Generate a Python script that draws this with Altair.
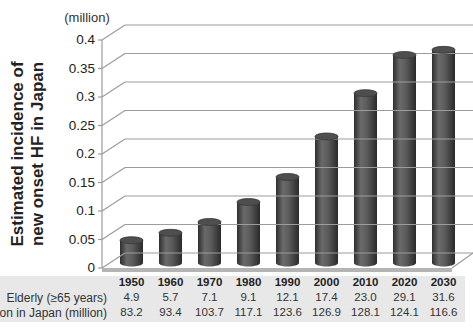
import altair as alt
import pandas as pd

# ---------------- data ----------------
years = ["1950", "1960", "1970", "1980", "1990", "2000", "2010", "2020", "2030"]
incidence = [0.040, 0.053, 0.072, 0.107, 0.151, 0.222, 0.298, 0.365, 0.374]
elderly = ["4.9", "5.7", "7.1", "9.1", "12.1", "17.4", "23.0", "29.1", "31.6"]
population = ["83.2", "93.4", "103.7", "117.1", "123.6", "126.9", "128.1", "124.1", "116.6"]
y_ticks = [0, 0.05, 0.1, 0.15, 0.2, 0.25, 0.3, 0.35, 0.4]
row_labels = ["Elderly (\u226565 years)", "Population in Japan (million)"]
title_lines = ["Estimated incidence of", "new onset HF in Japan"]
unit_label = "(million)"

FONT = "Liberation Sans"
bars_df = pd.DataFrame({"year": years, "value": incidence})
grid_df = pd.DataFrame({"v": y_ticks})
one = pd.DataFrame({"k": [0]})

xscale = alt.Scale(domain=years, paddingInner=0.41, paddingOuter=0.205)
yscale = alt.Scale(domain=[0, 0.4], nice=False)
GRID = "#9c9c9c"

ELLIPSE = "M -1 0 A 1 0.3 0 1 1 1 0 A 1 0.3 0 1 1 -1 0 Z"
bar_grad = alt.LinearGradient(
    gradient="linear", x1=0, x2=1, y1=0, y2=0,
    stops=[
        alt.GradientStop(offset=0, color="#2e2e2e"),
        alt.GradientStop(offset=0.3, color="#6a6a6a"),
        alt.GradientStop(offset=0.55, color="#5c5c5c"),
        alt.GradientStop(offset=1, color="#2a2a2a"),
    ],
)

# y axis drawn from the tick list
axis_line = alt.Chart(one).mark_rule(color=GRID, strokeWidth=1.2).encode(
    x=alt.value(-10), y=alt.YDatum(0, scale=yscale, axis=None), y2=alt.Y2Datum(0.4)
)
axis_ticks = alt.Chart(grid_df).mark_rule(color=GRID, strokeWidth=1.2).encode(
    x=alt.value(-14), x2=alt.value(-10), y=alt.Y("v:Q", scale=yscale, axis=None)
)
axis_labels = alt.Chart(grid_df).mark_text(
    align="right", baseline="middle", font=FONT, fontSize=13.5, color="#222222"
).encode(
    x=alt.value(-17), y=alt.Y("v:Q", scale=yscale, axis=None),
    text=alt.Text("v:Q", format="~g"),
)

# gridlines (3D style)
grid_front = alt.Chart(grid_df).mark_rule(color=GRID, strokeWidth=1.2, y2Offset=-15).encode(
    x=alt.value(-10), x2=alt.value(13),
    y=alt.Y("v:Q", scale=yscale, axis=None),
    y2="v:Q",
)
grid_back = alt.Chart(grid_df).mark_rule(color=GRID, strokeWidth=1.2, yOffset=-15).encode(
    x=alt.value(13), x2=alt.value(361),
    y=alt.Y("v:Q", scale=yscale, axis=None),
)
floor_front = alt.Chart(one).mark_rule(color="#b4b4b4", strokeWidth=4, yOffset=2).encode(
    x=alt.value(-10), x2=alt.value(340), y=alt.YDatum(0, axis=None)
)
floor_right = alt.Chart(one).mark_rule(color=GRID, strokeWidth=1.2, y2Offset=-15).encode(
    x=alt.value(340), x2=alt.value(361), y=alt.YDatum(0, axis=None), y2=alt.Y2Datum(0)
)

# cylinders
bottom = alt.Chart(bars_df).mark_point(
    shape=ELLIPSE, size=529, filled=True, opacity=1, color=bar_grad, strokeWidth=0, yOffset=-5
).encode(
    x=alt.X("year:N", scale=xscale, axis=None),
    y=alt.YDatum(0, axis=None),
)
body = alt.Chart(bars_df).mark_bar(color=bar_grad, yOffset=-5, y2Offset=-5).encode(
    x=alt.X("year:N", scale=xscale, axis=None),
    y=alt.Y("value:Q", scale=yscale, axis=None),
    y2=alt.Y2Datum(0),
)
top = alt.Chart(bars_df).mark_point(
    shape=ELLIPSE, size=529, filled=True, opacity=1, color="#4e4e4e",
    stroke="#3a3a3a", strokeWidth=0.8, yOffset=-5
).encode(
    x=alt.X("year:N", scale=xscale, axis=None),
    y=alt.Y("value:Q", scale=yscale, axis=None),
)

# y title and unit
title1 = alt.Chart(one).mark_text(
    text=title_lines[0], angle=270, font=FONT, fontSize=17, fontWeight="bold", color="#222222"
).encode(x=alt.value(-94), y=alt.value(114))
title2 = alt.Chart(one).mark_text(
    text=title_lines[1], angle=270, font=FONT, fontSize=17, fontWeight="bold", color="#222222"
).encode(x=alt.value(-74), y=alt.value(114))
unit = alt.Chart(one).mark_text(
    text=unit_label, font=FONT, fontSize=13, color="#333333"
).encode(x=alt.value(-25), y=alt.value(-22))

# table
table_bg = alt.Chart(one).mark_rect(color="#e8e8e8").encode(
    x=alt.value(-112), x2=alt.value(353), y=alt.value(236), y2=alt.value(282)
)
tbl = pd.DataFrame({"year": years, "elderly": elderly, "pop": population})
t_years = alt.Chart(tbl).mark_text(font=FONT, fontSize=11.5, fontWeight="bold", color="#222222").encode(
    x=alt.X("year:N", scale=xscale, axis=None), y=alt.value(243), text="year:N")
t_eld = alt.Chart(tbl).mark_text(font=FONT, fontSize=11.5, color="#333333").encode(
    x=alt.X("year:N", scale=xscale, axis=None), y=alt.value(258), text="elderly:N")
t_pop = alt.Chart(tbl).mark_text(font=FONT, fontSize=11.5, color="#333333").encode(
    x=alt.X("year:N", scale=xscale, axis=None), y=alt.value(273), text="pop:N")
lab1 = alt.Chart(one).mark_text(text=row_labels[0], align="right", font=FONT, fontSize=12, color="#333333").encode(
    x=alt.value(-5), y=alt.value(258))
lab2 = alt.Chart(one).mark_text(text=row_labels[1], align="right", font=FONT, fontSize=12, color="#333333").encode(
    x=alt.value(-5), y=alt.value(273))

chart = alt.layer(
    table_bg, body, grid_front, grid_back, floor_front, floor_right,
    axis_line, axis_ticks, axis_labels,
    bottom, top, title1, title2, unit,
    t_years, t_eld, t_pop, lab1, lab2,
).properties(
    width=351, height=228,
    autosize=alt.AutoSizeParams(type="none"),
    padding={"left": 112, "top": 40, "right": 10, "bottom": 61},
    background="white",
).configure_view(stroke=None)

chart.save("out.html", embed_options={"renderer": "svg", "actions": False})
